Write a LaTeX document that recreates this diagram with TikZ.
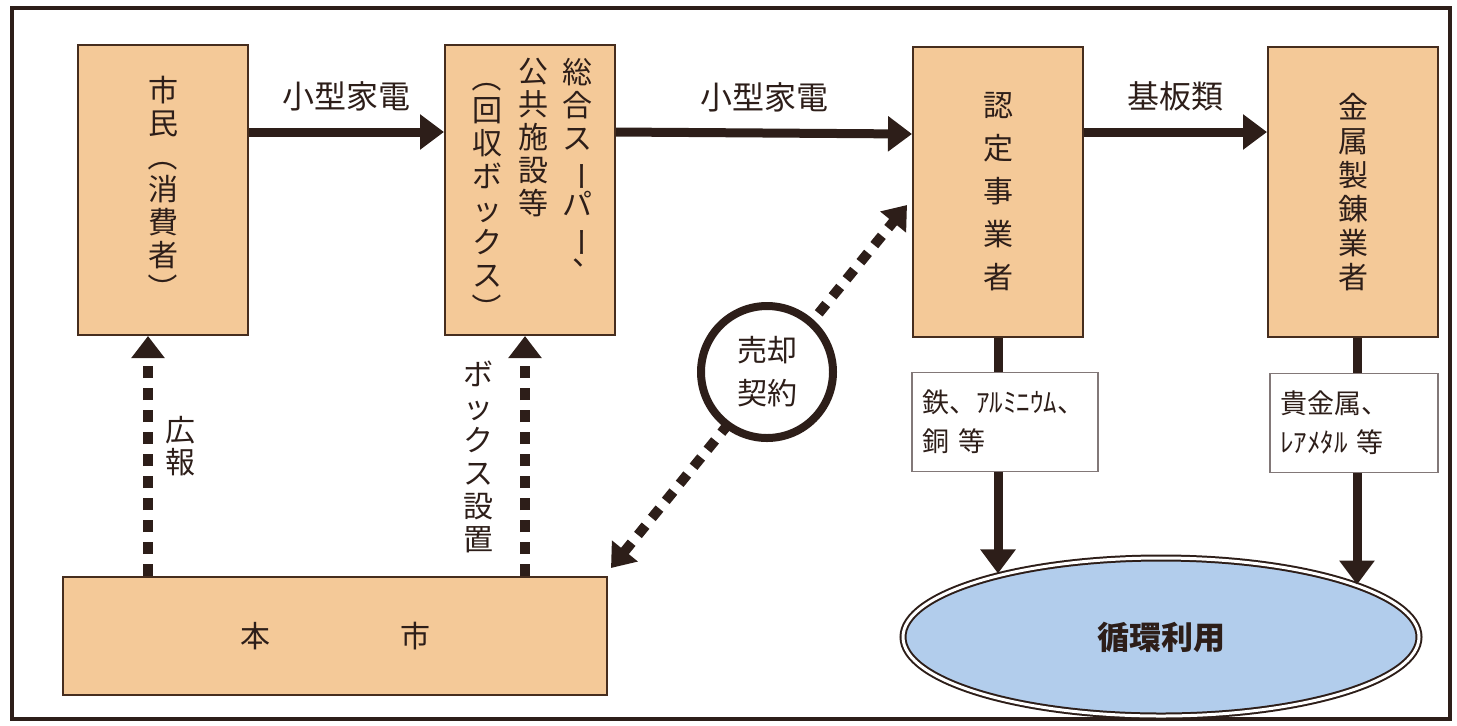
\documentclass[tikz,border=0pt]{standalone}
\usepackage{fontspec}
\usepackage{graphicx}
\setmainfont{Noto Sans CJK JP}
\usetikzlibrary{arrows.meta,shapes.geometric,calc}

\definecolor{boxtan}{RGB}{244,201,152}
\definecolor{boxline}{RGB}{70,45,30}
\definecolor{inkbrown}{RGB}{45,30,25}
\definecolor{notegray}{RGB}{130,120,120}
\definecolor{recyclue}{RGB}{178,205,236}

% vertical forms
\newcommand\vparl{\rotatebox[origin=c]{-90}{（}}
\newcommand\vparr{\rotatebox[origin=c]{-90}{）}}
\newcommand\vbar{\rotatebox[origin=c]{-90}{ー}}
\newcommand\vcomma{\makebox[1em]{\hspace{0.7em}\raisebox{0.6em}{、}}}

\tikzset{
	flowtip/.tip={Triangle[length=12pt,width=17pt]},
	dottip/.tip={Triangle[length=11pt,width=16pt]},
	box/.style={draw=boxline, line width=1pt, fill=boxtan, minimum width=85pt, minimum height=145pt, inner sep=0pt, align=center, text=inkbrown, font=\fontsize{15}{16.5}\selectfont},
	vtext/.style={inner sep=0pt, align=center, text=inkbrown, font=\fontsize{15}{16.5}\selectfont},
	lbl/.style={text=inkbrown, font=\fontsize{16}{18}\selectfont},
	note/.style={draw=notegray, line width=0.6pt, fill=white, text width=83pt, inner xsep=5pt, minimum height=49.5pt, align=left, text=inkbrown, font=\fontsize{13.5}{19.5}\selectfont},
	flow/.style={draw=inkbrown, line width=4.5pt, -{flowtip}},
	dots/.style={draw=inkbrown, line width=5pt, dash pattern=on 6pt off 5pt},
	seal/.style={circle, draw=inkbrown, line width=4pt, fill=white, minimum size=66pt, inner sep=0pt, align=center, text=inkbrown, font=\fontsize{15}{21.5}\selectfont},
	recycle/.style={ellipse, draw=inkbrown, double=white, double distance=1.5pt, line width=1pt, fill=recyclue, minimum width=258pt, minimum height=79pt, text=inkbrown, font=\fontsize{16}{18}\selectfont\bfseries},
}

\begin{document}
\begin{tikzpicture}[x=0.5pt,y=-0.5pt]
	\useasboundingbox (0,0) rectangle (1457,725);
	\draw [draw=inkbrown, line width=2pt] (12,8) rectangle (1450,719);
	%boxes
	\node [box] (shimin) at (163,190) {市\\民\\\vparl\\消\\費\\者\\\vparr};
	\node [box] (sogo) at (530,190) {};
	\node [vtext, anchor=north] (sogoA) at (577,58) {総\\合\\ス\\\vbar\\パ\\\vbar\\\vcomma};
	\node [vtext, anchor=north] (sogoB) at (533,58) {公\\共\\施\\設\\等};
	\node [vtext, anchor=north] (sogoC) at (487,62) {\vparl\\回\\収\\ボ\\ッ\\ク\\ス\\\vparr};
	\node [box, font=\fontsize{15}{21.5}\selectfont] (nintei) at (998,192) {認\\定\\事\\業\\者};
	\node [box, font=\fontsize{15}{17}\selectfont] (kinzoku) at (1353,192) {金\\属\\製\\錬\\業\\者};
	\node [box, minimum width=272pt, minimum height=59pt] (honshi) at (335,636) {本\hspace{65pt}市};
	\node [recycle] (junkan) at (1161,637) {循環利用};
	%solid arrows
	\draw [flow] ([yshift=29pt]shimin.east) -- ([yshift=29pt]sogo.west) node [lbl, midway, above=5pt] (lblA) {小型家電};
	\draw [flow] ([yshift=29pt]sogo.east) -- ([yshift=29pt]nintei.west) node [lbl, midway, above=5pt] (lblB) {小型家電};
	\draw [flow] ([yshift=30pt]nintei.east) -- ([yshift=30pt]kinzoku.west) node [lbl, midway, above=5pt] (lblC) {基板類};
	\draw [flow] (nintei.south) -- (nintei.south |- junkan.158);
	\draw [flow] ([xshift=2pt]kinzoku.south) -- ([xshift=2pt]kinzoku.south |- junkan.15);
	%dotted arrows
	\draw [dots, -{dottip}] ([xshift=-7.5pt]shimin.south |- honshi.north) -- ([xshift=-7.5pt]shimin.south);
	\draw [dots, -{dottip}] ([xshift=-2.5pt]sogo.south |- honshi.north) -- ([xshift=-2.5pt]sogo.south);
	\draw [dots, {dottip}-{dottip}] ($(honshi.north east)+(3,-8)$) -- ($(nintei.west)+(-5,13)$);
	\node [vtext, font=\fontsize{15}{16}\selectfont] (koho) at (180,446) {広\\報};
	\node [vtext] (boxset) at (478,457) {ボ\\ッ\\ク\\ス\\設\\置};
	%metals
	\node [note] (tetsu) at (1005,422) {鉄、ｱﾙﾐﾆｳﾑ、\\銅 等};
	\node [note, text width=74pt] (kikin) at (1354,423) {貴金属、\\ﾚｱﾒﾀﾙ 等};
	\node [seal] (baikyaku) at (767,372) {売却\\契約};
\end{tikzpicture}
\end{document}
